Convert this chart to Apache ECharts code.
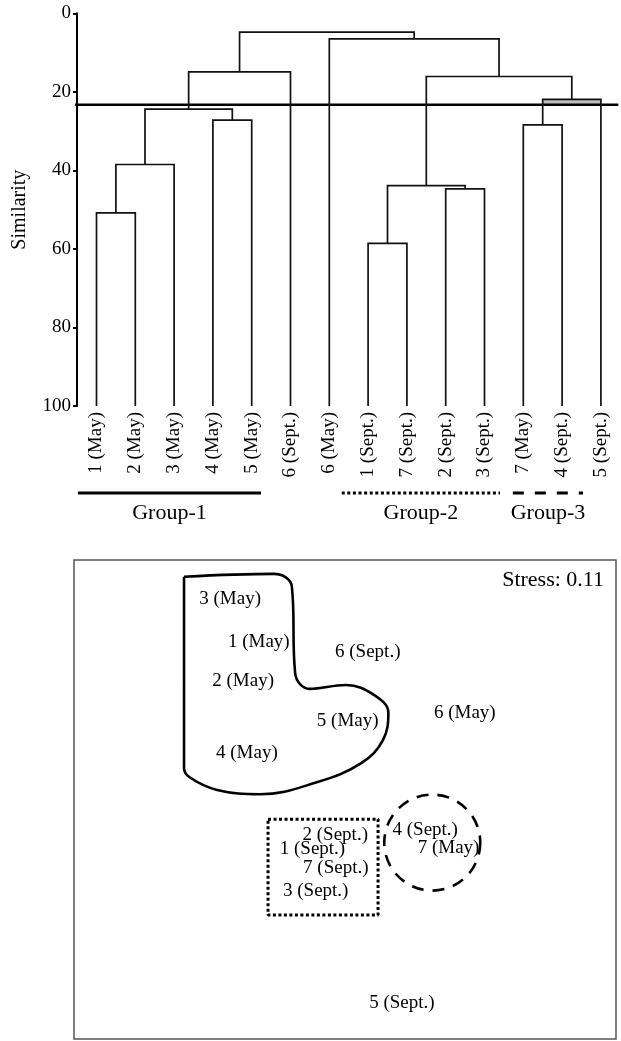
<!DOCTYPE html>
<html>
<head>
<meta charset="utf-8">
<script src="https://cdn.jsdelivr.net/npm/echarts@6/dist/echarts.min.js"></script>
<style>
  html, body { margin: 0; padding: 0; background: #fff; }
  #main { width: 621px; height: 1041px; }
</style>
</head>
<body>
<div id="main"></div>
<script>
// leaves of the dendrogram, left to right
var leafLabels = ['1 (May)', '2 (May)', '3 (May)', '4 (May)', '5 (May)', '6 (Sept.)', '6 (May)',
    '1 (Sept.)', '7 (Sept.)', '2 (Sept.)', '3 (Sept.)', '7 (May)', '4 (Sept.)', '5 (Sept.)'];
// linkage rows: [child a, child b, similarity]; new cluster id = 14 + row index
var linkage = [
    [0, 1, 50.8],
    [14, 2, 38.5],
    [3, 4, 27.2],
    [15, 16, 24.4],
    [17, 5, 14.9],
    [7, 8, 58.6],
    [9, 10, 44.7],
    [19, 20, 43.9],
    [11, 12, 28.4],
    [22, 13, 21.9],
    [21, 23, 16.1],
    [6, 24, 6.5],
    [18, 25, 4.8]
];
var cutLevel = 23.3;

// groups under the leaf labels (axis units of the leaf axis)
var groupNames = ['Group-1', 'Group-2', 'Group-3'];
var groupStart = [-0.48, 6.32, 10.73];
var groupEnd = [4.24, 10.4, 12.54];
var groupDash = ['solid', [3, 2.6], [11, 11]];

// MDS ordination (0-100 units across the frame)
var mdsLabels = ['3 (May)', '1 (May)', '6 (Sept.)', '2 (May)', '5 (May)', '6 (May)', '4 (May)',
    '2 (Sept.)', '1 (Sept.)', '7 (Sept.)', '3 (Sept.)', '4 (Sept.)', '7 (May)', '5 (Sept.)'];
var mdsX = [28.8, 34.1, 54.2, 31.2, 50.5, 72.1, 31.9, 48.2, 44.0, 48.3, 44.6, 64.8, 69.1, 60.5];
var mdsY = [91.9, 82.9, 80.8, 74.7, 66.4, 68.1, 59.7, 42.6, 39.7, 35.7, 30.9, 43.6, 39.9, 7.5];
// outlines drawn round the groups
var blobX = [20.3, 36.9, 40.2, 40.8, 43.5, 50.2, 55.4, 58.0, 57.0, 53.0, 44.8, 34.3, 26.4, 21.4, 20.3, 20.3];
var blobY = [96.5, 97.1, 94.4, 76.4, 73.1, 73.9, 71.8, 68.1, 62.4, 57.6, 53.6, 51.1, 52.0, 54.6, 56.6, 96.5];
var boxX = [35.8, 56.1, 56.1, 35.8, 35.8];
var boxY = [45.9, 45.9, 25.9, 25.9, 45.9];
var ringCenter = [66.1, 41.0];

var serif = 'Liberation Serif';
var ink = '#000';

function buildSegments() {
    var n = leafLabels.length;
    var pos = [], hgt = [];
    for (var i = 0; i < n; i++) { pos[i] = i; hgt[i] = 100; }
    var segs = [];
    linkage.forEach(function (m, k) {
        var a = m[0], b = m[1], h = m[2];
        segs.push([pos[a], hgt[a], pos[b], hgt[b], h]);
        pos[n + k] = (pos[a] + pos[b]) / 2;
        hgt[n + k] = h;
    });
    return segs;
}

function zip(xs, ys) {
    return xs.map(function (x, i) { return [x, ys[i]]; });
}

var chart = echarts.init(document.getElementById('main'), null, { renderer: 'canvas' });

var series = [];
// grey band + cut line
series.push({
    type: 'line', xAxisIndex: 0, yAxisIndex: 0, clip: false, symbol: 'none', z: 1,
    data: [[-0.55, cutLevel], [13.45, cutLevel]],
    lineStyle: { color: ink, width: 2.5 },
    markArea: {
        silent: true,
        itemStyle: { color: '#bdbdbd' },
        data: [[{ coord: [11.5, 21.9] }, { coord: [13, cutLevel] }]]
    }
});
series.push({
    type: 'custom', xAxisIndex: 0, yAxisIndex: 0, z: 3,
    data: buildSegments(),
    encode: { x: [0, 2], y: [1, 3, 4] },
    renderItem: function (params, api) {
        var p1 = api.coord([api.value(0), api.value(1)]);
        var p2 = api.coord([api.value(0), api.value(4)]);
        var p3 = api.coord([api.value(2), api.value(4)]);
        var p4 = api.coord([api.value(2), api.value(3)]);
        return {
            type: 'polyline',
            shape: { points: [p1, p2, p3, p4] },
            style: { stroke: '#111', lineWidth: 1.7, fill: null }
        };
    }
});
groupNames.forEach(function (name, i) {
    series.push({
        type: 'line', xAxisIndex: 2, yAxisIndex: 1, symbol: 'none', clip: false,
        data: [[groupStart[i], 0.5], [groupEnd[i], 0.5]],
        lineStyle: { color: ink, width: 3.2, type: groupDash[i], cap: 'butt' }
    });
});
series.push({
    type: 'scatter', xAxisIndex: 2, yAxisIndex: 1, symbolSize: 0,
    itemStyle: { opacity: 1 },
    data: groupNames.map(function (name, i) {
        return { value: [(groupStart[i] + groupEnd[i]) / 2, 0.5], name: name };
    }),
    label: {
        show: true, position: 'bottom', distance: 9,
        formatter: '{b}', fontFamily: serif, fontSize: 22, color: ink, textBorderWidth: 0
    }
});
// MDS
series.push({
    type: 'line', xAxisIndex: 3, yAxisIndex: 2, symbol: 'none', smooth: 0.4,
    data: zip(blobX, blobY),
    lineStyle: { color: ink, width: 2.6 }
});
series.push({
    type: 'line', xAxisIndex: 3, yAxisIndex: 2, symbol: 'none',
    data: zip(boxX, boxY),
    lineStyle: { color: ink, width: 3, type: [3, 2.5], cap: 'butt' }
});
series.push({
    type: 'scatter', xAxisIndex: 3, yAxisIndex: 2, symbol: 'circle', symbolSize: 96,
    data: [ringCenter],
    itemStyle: { opacity: 1, color: 'rgba(0,0,0,0)', borderColor: ink, borderWidth: 2.6, borderType: [12, 9] }
});
series.push({
    type: 'scatter', xAxisIndex: 3, yAxisIndex: 2, symbolSize: 0, z: 5,
    itemStyle: { opacity: 1 },
    data: mdsLabels.map(function (t, i) { return { value: [mdsX[i], mdsY[i]], name: t }; }),
    label: {
        show: true, position: 'inside', formatter: '{b}',
        fontFamily: serif, fontSize: 19, color: ink, textBorderWidth: 0
    }
});

var option = {
    backgroundColor: '#fff',
    animation: false,
    title: {
        text: 'Stress: 0.11', right: 12, top: 564,
        textStyle: { fontFamily: serif, fontSize: 22, fontWeight: 'normal', color: ink }
    },
    grid: [
        { left: 77.1, width: 543.2, top: 13.3, height: 392.7 },
        { left: 74, width: 542, top: 560, height: 479, show: true,
          borderColor: '#555', borderWidth: 1.5, backgroundColor: 'transparent' },
        { left: 77.1, width: 543.2, top: 488, height: 10 }
    ],
    xAxis: [
        { type: 'value', gridIndex: 0, min: -0.5, max: 13.5, show: false },
        { type: 'category', gridIndex: 0, position: 'bottom', data: leafLabels,
          axisLine: { show: false }, axisTick: { show: false }, splitLine: { show: false },
          axisLabel: { rotate: 90, margin: 6, interval: 0, fontFamily: serif, fontSize: 19, color: ink } },
        { type: 'value', gridIndex: 2, min: -0.5, max: 13.5, show: false },
        { type: 'value', gridIndex: 1, min: 0, max: 100, show: false }
    ],
    yAxis: [
        { type: 'value', gridIndex: 0, inverse: true, min: 0, max: 100, interval: 20,
          name: 'Similarity', nameLocation: 'middle', nameGap: 47, nameRotate: 90,
          nameTextStyle: { fontFamily: serif, fontSize: 20, color: ink },
          axisLine: { show: true, onZero: false, lineStyle: { color: ink, width: 2 } },
          axisTick: { show: true, length: 4, lineStyle: { color: ink, width: 2 } },
          splitLine: { show: false },
          axisLabel: { margin: 6, fontFamily: serif, fontSize: 19, color: ink } },
        { type: 'value', gridIndex: 2, min: 0, max: 1, show: false },
        { type: 'value', gridIndex: 1, min: 0, max: 100, show: false }
    ],
    series: series
};
chart.setOption(option);
</script>
</body>
</html>
